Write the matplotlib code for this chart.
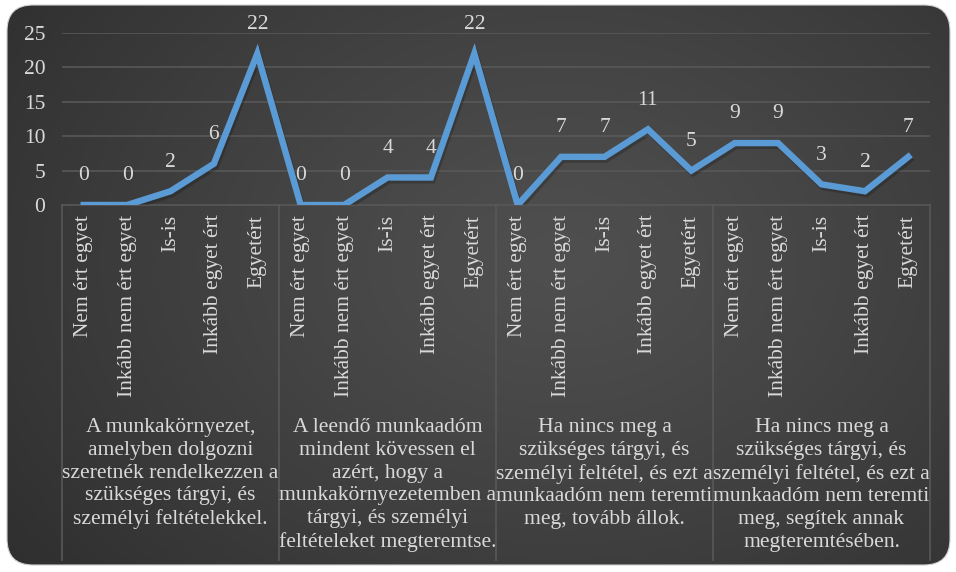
import numpy as np
import matplotlib
matplotlib.use("Agg")
import matplotlib.pyplot as plt
from matplotlib.patches import FancyBboxPatch
from matplotlib.lines import Line2D
import matplotlib.patheffects as pe

plt.rcParams['font.family'] = ['Liberation Serif', 'DejaVu Serif']

categories = ["Nem ért egyet", "Inkább nem ért egyet", "Is-is", "Inkább egyet ért", "Egyetért"] * 4
values = [0, 0, 2, 6, 22,
          0, 0, 4, 4, 22,
          0, 7, 7, 11, 5,
          9, 9, 3, 2, 7]
groups = [
    "A munkakörnyezet,\namelyben dolgozni\nszeretnék rendelkezzen a\nszükséges tárgyi, és\nszemélyi feltételekkel.",
    "A leendő munkaadóm\nmindent kövessen el\nazért, hogy a\nmunkakörnyezetemben a\ntárgyi, és személyi\nfeltételeket megteremtse.",
    "Ha nincs meg a\nszükséges tárgyi, és\nszemélyi feltétel, és ezt a\nmunkaadóm nem teremti\nmeg, tovább állok.",
    "Ha nincs meg a\nszükséges tárgyi, és\nszemélyi feltétel, és ezt a\nmunkaadóm nem teremti\nmeg, segítek annak\nmegteremtésében.",
]
yticks = [0, 5, 10, 15, 20, 25]

W, H = 956, 572
fig = plt.figure(figsize=(W / 100, H / 100), dpi=100)
fig.patch.set_facecolor("white")

# background with radial gradient in rounded rectangle
bg = fig.add_axes([0, 0, 1, 1], zorder=-5)
bg.set_xlim(0, W)
bg.set_ylim(H, 0)
bg.axis("off")
yy, xx = np.mgrid[0:H, 0:W]
cx, cy = 560, 260
r = np.sqrt(((xx - cx) / 700.0) ** 2 + ((yy - cy) / 520.0) ** 2)
r = np.clip(r, 0, 1)
lo, hi = 0.18, 0.31
g = hi - (hi - lo) * r ** 1.2
img = np.dstack([g, g, g])
im = bg.imshow(img, extent=[0, W, H, 0], interpolation="bilinear", aspect="auto")
box = FancyBboxPatch((7, 5), 943, 560, boxstyle="round,pad=0,rounding_size=26",
                     transform=bg.transData, facecolor="none", edgecolor="#d0d0d0", lw=0.8)
bg.add_patch(box)
im.set_clip_path(box)

txt = "#d9d9d9"
grid = "#585858"

x0, x1 = 62, 930
ybot, ytop = 205, 33
ax = fig.add_axes([x0 / W, 1 - ybot / H, (x1 - x0) / W, (ybot - ytop) / H])
ax.set_facecolor("none")
n = len(values)
x = np.arange(n)
ax.set_xlim(-0.5, n - 0.5)
ax.set_ylim(0, 25)
for s in ax.spines.values():
    s.set_visible(False)
for yv in yticks[1:]:
    ax.axhline(yv, color=grid, lw=1.2, zorder=1)
ax.axhline(0, color=grid, lw=1.2, zorder=1, clip_on=False)

ax.plot(x, values, color="#5b9bd5", lw=4.6, solid_joinstyle="miter", zorder=3,
        path_effects=[pe.SimpleLineShadow(offset=(1.2, -2.0), shadow_color="black", alpha=0.2),
                      pe.Normal()])
for xi, v in zip(x, values):
    ax.annotate(str(v), (xi, v), xytext=(0, 21), textcoords="offset points",
                ha="center", va="center", color=txt, fontsize=15.5)

ax.set_yticks(yticks)
ax.set_yticklabels([str(t) for t in yticks], color=txt, fontsize=15.5)
ax.tick_params(axis="y", length=0, pad=12)
ax.set_xticks(x)
ax.set_xticklabels(categories, rotation=90, color=txt, fontsize=15.5, va="top", ha="center")
ax.tick_params(axis="x", length=0, pad=7)

# group separators
bottom_px = 560
for k in range(5):
    xp = x0 + k * (x1 - x0) / 4
    fig.add_artist(Line2D([xp / W, xp / W], [1 - ybot / H, 1 - bottom_px / H],
                          transform=fig.transFigure, color=grid, lw=1.2))

for k, gtxt in enumerate(groups):
    xc = x0 + (k + 0.5) * (x1 - x0) / 4
    fig.text(xc / W, 1 - 418 / H, gtxt, ha="center", va="top", color=txt,
             fontsize=15.6, linespacing=1.27, multialignment="center")

fig.savefig("out.png", dpi=100)
